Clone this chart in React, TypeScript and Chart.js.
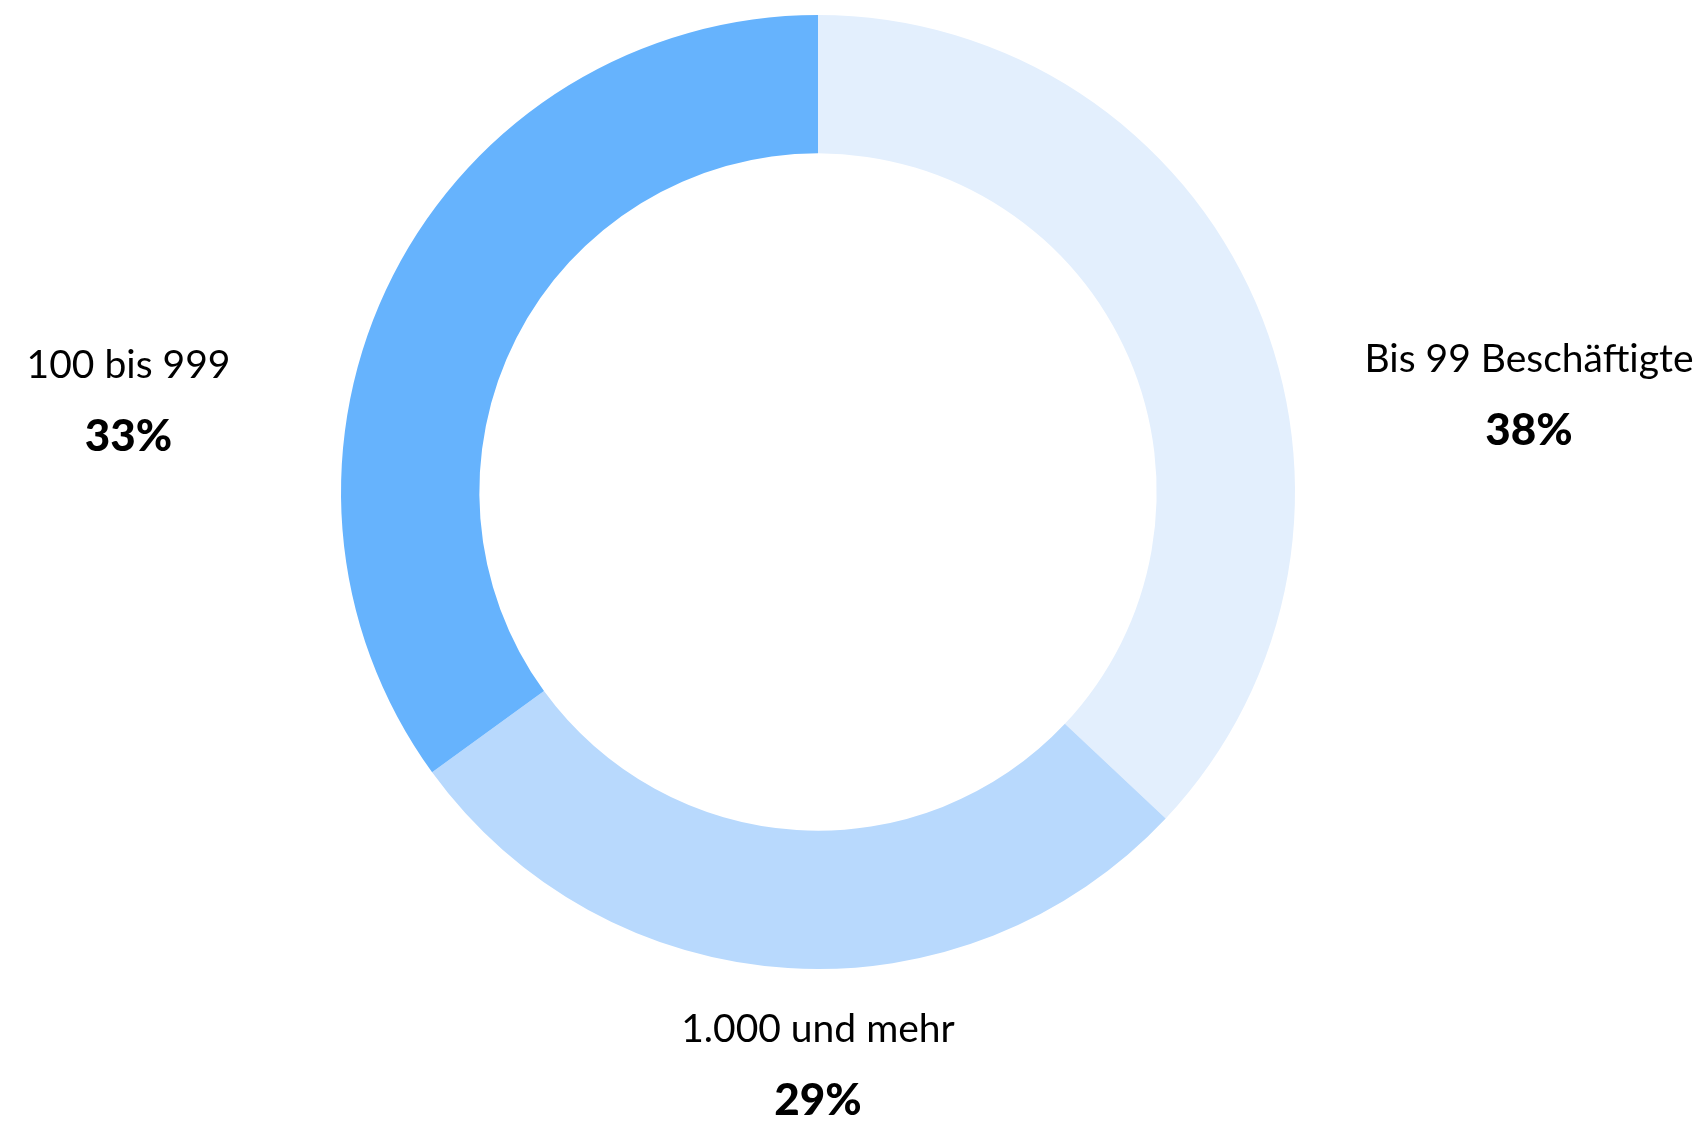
import React, { useEffect, useRef } from "react";
import { Chart, registerables } from "chart.js";

Chart.register(...registerables);

const categories = ["Bis 99 Beschäftigte", "1.000 und mehr", "100 bis 999"];
const sliceValues = [37, 28, 35];
const percentLabels = ["38%", "29%", "33%"];
const sliceColors = ["#E3EFFD", "#B8D9FD", "#66B3FD"];

// label anchor offsets relative to the donut centre, in units of outer radius
const labelAnchors = [
  { dx: 1.4906, dy: -0.2516 },
  { dx: 0, dy: 1.153 },
  { dx: -1.4455, dy: -0.239 },
];

const FONT = "Lato, 'Open Sans', sans-serif";

const labelPlugin = {
  id: "outsideLabels",
  afterDraw(chart: any) {
    const meta = chart.getDatasetMeta(0);
    const ctx = chart.ctx;
    ctx.save();
    ctx.textAlign = "center";
    ctx.textBaseline = "alphabetic";
    ctx.fillStyle = "#000";
    meta.data.forEach((arc: any, i: number) => {
      const { x, y, outerRadius } = arc.getProps(["x", "y", "outerRadius"], true);
      const a = labelAnchors[i];
      const lx = x + a.dx * outerRadius;
      const ly = y + a.dy * outerRadius;
      ctx.font = `400 39px ${FONT}`;
      ctx.fillText(chart.data.labels[i], lx, ly);
      ctx.font = `900 44px ${FONT}`;
      ctx.fillText(percentLabels[i], lx, ly + 73);
    });
    ctx.restore();
  },
};

export default function App() {
  const ref = useRef<HTMLCanvasElement | null>(null);
  useEffect(() => {
    if (!ref.current) return;
    const chart = new Chart(ref.current, {
      type: "doughnut",
      data: {
        labels: categories,
        datasets: [
          {
            data: sliceValues,
            backgroundColor: sliceColors,
            borderWidth: 0,
          },
        ],
      },
      options: {
        animation: false,
        responsive: false,
        cutout: "71%",
        layout: { padding: { top: 15, bottom: 153, left: 0, right: 70 } },
        plugins: {
          legend: { display: false },
          tooltip: { enabled: false },
        },
      },
      plugins: [labelPlugin],
    });
    return () => chart.destroy();
  }, []);
  return (
    <div style={{ position: "absolute", left: 0, top: 0, width: 1706, height: 1122, background: "#fff" }}>
      <canvas ref={ref} width={1706} height={1122} style={{ display: "block" }} />
    </div>
  );
}
